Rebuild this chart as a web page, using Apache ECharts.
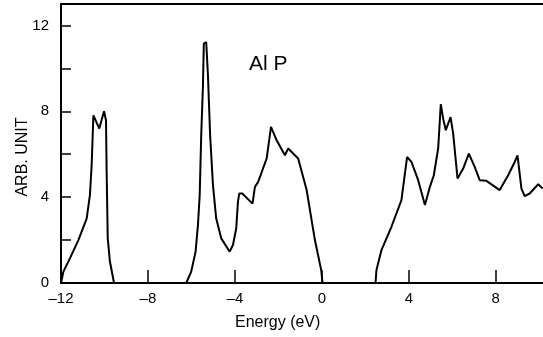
<!DOCTYPE html>
<html>
<head>
<meta charset="utf-8">
<script src="https://cdn.jsdelivr.net/npm/echarts@6/dist/echarts.min.js"></script>
<style>html,body{margin:0;padding:0;background:#fff}#c{width:543px;height:337px}</style>
</head>
<body>
<div id="c"></div>
<script>
// Energy (eV) and density of states (arb. unit), three bands
const energyA = [-12.0, -11.89, -11.59, -11.2, -10.82, -10.67, -10.59, -10.51, -10.24, -10.02, -9.93, -9.9, -9.85, -9.75, -9.56];
const dosA    = [0, 0.53, 1.15, 2.0, 3.0, 4.09, 5.49, 7.81, 7.2, 8.0, 7.58, 5.18, 2.08, 1.0, 0];

const energyB = [-6.24, -6.01, -5.81, -5.70, -5.62, -5.55, -5.47, -5.43, -5.32, -5.24, -5.14, -5.01, -4.86, -4.63, -4.24, -4.09, -3.94, -3.86, -3.8, -3.66, -3.19, -3.08, -2.93, -2.54, -2.34, -2.08, -1.7, -1.55, -1.24, -1.09, -0.7, -0.32, -0.03, 0.03];
const dosB    = [0, 0.53, 1.46, 2.7, 4.09, 6.88, 9.2, 11.15, 11.22, 9.67, 6.88, 4.56, 3.0, 2.08, 1.46, 1.77, 2.54, 3.78, 4.17, 4.17, 3.7, 4.48, 4.71, 5.8, 7.27, 6.65, 5.95, 6.27, 5.95, 5.8, 4.33, 2.0, 0.6, 0];

const energyC = [2.47, 2.51, 2.74, 3.2, 3.66, 3.78, 3.92, 4.12, 4.43, 4.74, 4.97, 5.15, 5.35, 5.47, 5.58, 5.7, 5.92, 6.04, 6.24, 6.5, 6.76, 7.03, 7.26, 7.57, 8.18, 8.57, 8.87, 9.0, 9.18, 9.33, 9.56, 9.95, 10.16];
const dosC    = [0, 0.6, 1.53, 2.62, 3.86, 4.79, 5.87, 5.64, 4.79, 3.63, 4.48, 5.02, 6.27, 8.33, 7.66, 7.12, 7.73, 6.96, 4.87, 5.33, 6.03, 5.41, 4.79, 4.76, 4.33, 5.02, 5.64, 5.95, 4.4, 4.05, 4.17, 4.6, 4.4];

const xTicks = [-12, -8, -4, 0, 4, 8];
const yLabelTicks = [0, 4, 8, 12];

const pair = (xs, ys) => xs.map((x, i) => [x, ys[i]]);
const FONT = 'Liberation Sans, Arial, sans-serif';

const chart = echarts.init(document.getElementById('c'), null, {renderer: 'canvas'});
const lineStyle = {color: '#000', width: 2};
const mk = (xs, ys) => ({
  type: 'line', data: pair(xs, ys), showSymbol: false, symbol: 'none',
  smooth: false,
  lineStyle: lineStyle, animation: false, clip: true
});

chart.setOption({
  animation: false,
  backgroundColor: '#fff',
  grid: {left: 61, width: 500, top: 4, bottom: 54, outerBoundsMode: 'none', containLabel: false,
         show: true, borderColor: '#000', borderWidth: 2, backgroundColor: 'transparent'},
  xAxis: {
    type: 'value', min: -12, max: 11, interval: 4,
    splitLine: {show: false},
    axisLine: {onZero: false, lineStyle: {color: '#000', width: 2}},
    axisTick: {inside: true, length: 13, lineStyle: {color: '#000', width: 1.5}},
    axisLabel: {
      color: '#000', fontFamily: FONT, fontSize: 15, margin: 8,
      formatter: v => xTicks.includes(v) ? String(v).replace('-', '\u2013') : ''
    }
  },
  yAxis: {
    type: 'value', min: 0, max: 13, interval: 2,
    splitLine: {show: false},
    axisLine: {onZero: false, lineStyle: {color: '#000', width: 2}},
    axisTick: {inside: true, length: 10, lineStyle: {color: '#000', width: 1.5}},
    axisLabel: {
      color: '#000', fontFamily: FONT, fontSize: 15, margin: 12,
      formatter: v => yLabelTicks.includes(v) ? String(v) : ''
    }
  },
  graphic: [
    {type: 'text', left: 249, top: 54, style: {text: 'Al P', font: '21px ' + FONT, fill: '#000'}},
    {type: 'text', left: 235, top: 315, style: {text: 'Energy (eV)', font: '16px ' + FONT, fill: '#000'}},
    {type: 'text', x: 23, y: 157, rotation: Math.PI / 2,
     style: {text: 'ARB. UNIT', font: '16px ' + FONT, fill: '#000', textAlign: 'center', textVerticalAlign: 'middle'}}
  ],
  series: [mk(energyA, dosA), mk(energyB, dosB), mk(energyC, dosC)]
});
</script>
</body>
</html>
